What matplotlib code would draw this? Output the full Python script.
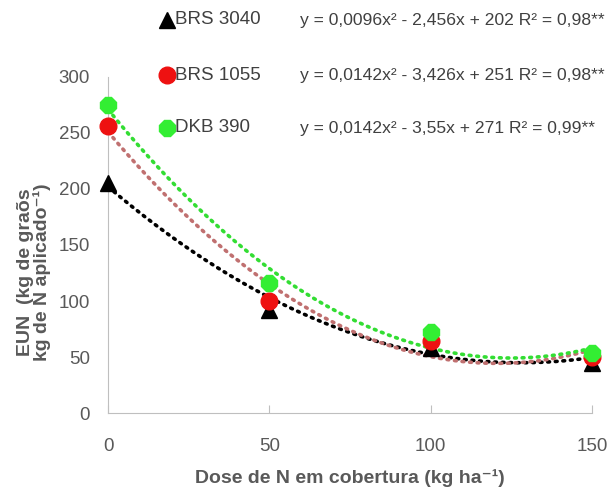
import matplotlib
matplotlib.use("Agg")
import matplotlib.pyplot as plt
import numpy as np

plt.rcParams["font.family"] = ["Liberation Sans", "DejaVu Sans"]

doses = [0, 50, 100, 150]
cultivares = ["BRS 3040", "BRS 1055", "DKB 390"]
eun_brs3040 = [205, 92, 58, 45]
eun_brs1055 = [256, 100, 64, 50]
eun_dkb390 = [275, 116, 72, 54]
coef_brs3040 = [0.0096, -2.456, 202]
coef_brs1055 = [0.0142, -3.426, 251]
coef_dkb390 = [0.0142, -3.55, 271]
equacoes = ["y = 0,0096x² - 2,456x + 202 R² = 0,98**",
            "y = 0,0142x² - 3,426x + 251 R² = 0,98**",
            "y = 0,0142x² - 3,55x + 271 R² = 0,99**"]

series = [eun_brs3040, eun_brs1055, eun_dkb390]
coefs = [coef_brs3040, coef_brs1055, coef_dkb390]
markers = ["^", "o", "8"]
mcolors = ["black", "#ee1111", "#33ee33"]
lcolors = ["black", "#c07070", "#33dd33"]
msizes = [12, 12, 12]

fig = plt.figure(figsize=(6.14, 4.90), dpi=100)
ax = fig.add_axes([0.176, 0.157, 0.788, 0.686])

xx = np.linspace(0, 150, 200)
for cf, lc in zip(coefs, lcolors):
    ax.plot(xx, np.polyval(cf, xx), color=lc, lw=2.6, linestyle=(0, (0.5, 1.6)),
            dash_capstyle="round", zorder=2)
for vals, mk, mc, ms in zip(series, markers, mcolors, msizes):
    ax.plot(doses, vals, linestyle="none", marker=mk, color=mc, ms=ms,
            clip_on=False, zorder=3)

ax.set_xlim(0, 150)
ax.set_ylim(0, 300)
ax.set_xticks([0, 50, 100, 150])
ax.set_yticks(range(0, 301, 50))
for s in ["top", "right"]:
    ax.spines[s].set_visible(False)
for s in ["left", "bottom"]:
    ax.spines[s].set_color("#bfbfbf")
ax.tick_params(axis="x", direction="in", length=6, color="#bfbfbf",
               labelsize=13.5, labelcolor="#595959", pad=18)
ax.tick_params(axis="y", length=0, labelsize=13.5, labelcolor="#595959", pad=13)

ax.set_xlabel("Dose de N em cobertura (kg ha⁻¹)", fontsize=14,
              fontweight="bold", color="#595959", labelpad=10)
# y label placed by hand, lines centred like in the original
fig.text(34 / 614, 1 - 272 / 490, "EUN  (kg de graõs\nkg de N aplicado⁻¹)",
         rotation=90, ha="center", va="center", multialignment="center",
         fontsize=14, fontweight="bold", color="#595959", linespacing=0.95)

rows_y = [20, 75, 128]
for nome, eq, mk, mc, ms, py in zip(cultivares, equacoes, markers, mcolors, msizes, rows_y):
    yf = 1 - py / 490
    fig.lines.append(plt.Line2D([167 / 614], [yf], marker=mk, color=mc, ms=ms,
                                linestyle="none", transform=fig.transFigure))
    fig.text(175 / 614, yf, nome, fontsize=13.5, color="#404040", va="center")
    fig.text(300 / 614, yf, eq, fontsize=12.6, color="#404040", va="center")

fig.savefig("out.png", dpi=100)
